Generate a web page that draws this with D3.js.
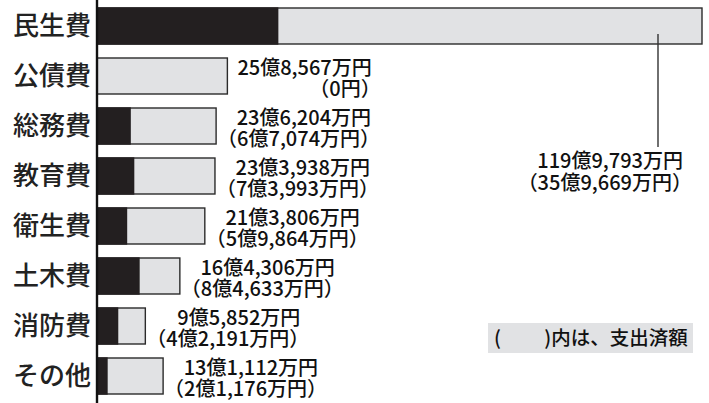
<!DOCTYPE html>
<html><head><meta charset="utf-8">
<script src="https://cdn.jsdelivr.net/npm/d3@7"></script>
<style>
html,body{margin:0;padding:0;background:#fff;}
svg{display:block;}
</style></head>
<body>
<svg id="c" width="709" height="403"></svg>
<script>
const categories = ["民生費","公債費","総務費","教育費","衛生費","土木費","消防費","その他"];
// 単位：万円
const totals = [1199793, 258567, 236204, 233938, 213806, 164306, 95852, 131112];
const spent  = [359669, 0, 67074, 73993, 59864, 84633, 42191, 21176];
const legendText = "(　　 )内は、支出済額";

function fmt(v){
  if (v === 0) return "0円";
  const oku = Math.floor(v / 10000), man = v % 10000;
  let s = "";
  if (oku > 0) s += oku + "億";
  s += d3.format(",")(man) + "万円";
  return s;
}

const svg = d3.select("#c");
const x0 = 97;
const x = d3.scaleLinear().domain([0, d3.max(totals)]).range([x0, 702]);
const y = d3.scaleBand().domain(categories).range([1, 401]).paddingInner(0.28).paddingOuter(0.14);

const data = categories.map((c,i)=>({c, t: totals[i], s: spent[i]}));

const g = svg.append("g");
g.selectAll("rect.tot").data(data).join("rect")
  .attr("class","tot")
  .attr("x", x0).attr("y", d=>y(d.c))
  .attr("width", d=>x(d.t)-x0).attr("height", y.bandwidth())
  .attr("fill","#e1e2e4").attr("stroke","#2b2b2b").attr("stroke-width",1.4);
g.selectAll("rect.sp").data(data.filter(d=>d.s>0)).join("rect")
  .attr("class","sp")
  .attr("x", x0).attr("y", d=>y(d.c)-0.7)
  .attr("width", d=>x(d.s)-x0).attr("height", y.bandwidth()+1.4)
  .attr("fill","#231f20");

svg.append("line").attr("x1",x0).attr("x2",x0).attr("y1",0).attr("y2",403)
  .attr("stroke","#111").attr("stroke-width",2.4);

svg.selectAll("text.cat").data(categories).join("text")
  .attr("class","cat")
  .attr("x", 91).attr("y", d=>y(d)+y.bandwidth()/2+9)
  .attr("text-anchor","end")
  .attr("font-family","'Noto Sans CJK JP'")
  .attr("font-size",26).attr("font-weight",500).attr("fill","#222")
  .text(d=>d);

const lf = "'Noto Sans CJK JP', 'Noto Sans', sans-serif";
const FS = 20;

function twoLine(sel, top, xLeft, xRightFixed){
  const t = sel.append("text")
    .attr("text-anchor","end").attr("font-family",lf).attr("font-size",FS)
    .attr("font-weight",500).attr("fill","#111");
  const a = t.append("tspan").attr("y", top[0]).text(top[2]);
  const b = t.append("tspan").attr("y", top[1]).text(top[3]);
  let xr;
  if (xRightFixed != null) xr = xRightFixed;
  else xr = xLeft + Math.max(a.node().getComputedTextLength(), b.node().getComputedTextLength() - 0.9*FS);
  a.attr("x", xr);
  b.attr("x", xr + 0.45*FS);
  return t;
}

data.slice(1).forEach(d=>{
  twoLine(svg, [y(d.c)+17, y(d.c)+38, fmt(d.t), "（"+fmt(d.s)+"）"], x(d.t)+10);
});

const f = data[0];
const lx = x(f.t) - 44;
svg.append("line").attr("x1",lx).attr("x2",lx)
  .attr("y1", y(f.c)+y.bandwidth()-10).attr("y2", y(f.c)+139)
  .attr("stroke","#333").attr("stroke-width",1.4);
twoLine(svg, [y(f.c)+160, y(f.c)+182, fmt(f.t), "（"+fmt(f.s)+"）"], null, 683);

svg.append("rect").attr("x",488).attr("y",323).attr("width",205).attr("height",30).attr("fill","#e1e2e4");
svg.append("text").attr("x",494).attr("y",345).attr("font-family",lf).attr("font-size",19.5)
  .attr("font-weight",500).attr("fill","#111").text(legendText);
</script>
</body></html>
